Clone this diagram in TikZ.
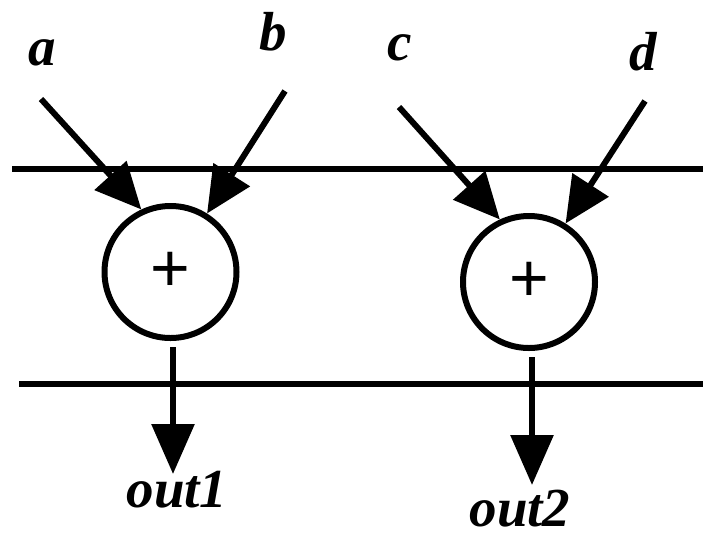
\documentclass[tikz,border=0pt]{standalone}
\usepackage{fontspec}
\setmainfont{Liberation Serif}
\newfontfamily\plusfont{Liberation Sans}
\usetikzlibrary{arrows.meta}
\begin{document}
\begin{tikzpicture}[x=1pt,y=-1pt,
  wire/.style={line width=6pt},
  adder/.style={circle, draw, line width=6pt, minimum size=132pt, inner sep=0pt, font=\plusfont\fontsize{68}{68}\selectfont},
  lbl/.style={anchor=base, inner sep=0pt, font=\bfseries\itshape\fontsize{55}{55}\selectfont},
  arr/.style={line width=6pt, -{Triangle[length=46pt,width=42pt]}},
  darr/.style={line width=6pt, -{Triangle[length=50pt,width=42pt]}}
]
\useasboundingbox (0,0) rectangle (703,536);
% bus lines
\coordinate (t0) at (12,169);
\coordinate (t1) at (703,169);
\coordinate (b0) at (19,384);
\coordinate (b1) at (703,384);
\draw[wire] (t0) -- (t1);
\draw[wire] (b0) -- (b1);
% adders
\node[adder] (c1) at (170.5,272) {+};
\node[adder] (c2) at (529,282) {+};
% input labels
\node[lbl] (la) at (42,65) {a};
\node[lbl] (lb) at (273,50) {b};
\node[lbl] (lc) at (400,60) {c};
\node[lbl] (ld) at (643,70) {d};
% input arrows
\coordinate (a0) at (41,99);
\coordinate (b0s) at (285,91);
\coordinate (c0) at (399,107);
\coordinate (d0) at (645,101);
\draw[arr] (a0) -- (c1.115.5);
\draw[arr] (b0s) -- (c1.58.4);
\draw[arr] (c0) -- (c2.115);
\draw[arr] (d0) -- (c2.58);
% outputs
\coordinate (o1) at (173,474);
\coordinate (o2) at (532,485);
\draw[darr] ([xshift=2.5pt,yshift=-6pt]c1.south) -- (o1);
\draw[darr] ([xshift=3pt,yshift=-6pt]c2.south) -- (o2);
\node[lbl] (lo1) at (177,507) {out1};
\node[lbl] (lo2) at (520,526) {out2};
\end{tikzpicture}
\end{document}
